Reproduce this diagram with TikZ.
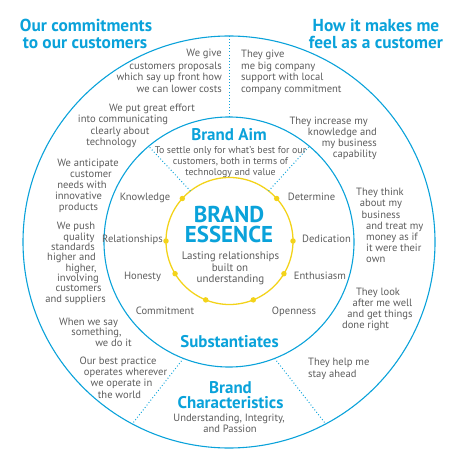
\documentclass[tikz,border=0pt]{standalone}
\usepackage{fontspec}
\setmainfont{PT Sans}
\usetikzlibrary{calc}
\definecolor{brandcyan}{HTML}{0AA2DA}
\definecolor{greytext}{HTML}{5C5C5C}
\definecolor{brandyellow}{HTML}{F3D31A}
\tikzset{
  txt/.style={font=\fontsize{10.6}{12}\selectfont, text=greytext, inner sep=0pt, text height=8pt, text depth=2pt},
  aimtxt/.style={txt, font=\fontsize{9.9}{11}\selectfont},
  esstxt/.style={txt, font=\fontsize{11}{12}\selectfont},
  ttl/.style={font=\bfseries\fontsize{17}{18}\selectfont, text=brandcyan, inner sep=0pt, text height=12pt, text depth=0pt},
  bigttl/.style={ttl, font=\bfseries\fontsize{17.4}{18}\selectfont},
  ttltwo/.style={font=\bfseries\fontsize{17}{15}\selectfont, text=brandcyan, inner sep=0pt, align=center},
  ess/.style={font=\bfseries\fontsize{23}{19.5}\selectfont, text=brandcyan, inner sep=0pt, align=center},
  ring/.style={draw=brandcyan, line width=1.1pt},
  yring/.style={draw=brandyellow, line width=1.3pt},
  dotline/.style={draw=brandcyan, line width=1pt, dash pattern=on 0.9pt off 2.2pt},
  ydot/.style={circle, fill=brandyellow, inner sep=0pt, minimum size=5.5pt}
}
\begin{document}
\begin{tikzpicture}[x=1bp,y=-1bp]
\useasboundingbox (0,0) rectangle (470,463);
\coordinate (C) at (229,242);
\coordinate (Y) at (229.5,241);
% circles
\draw[ring] (C) circle[radius=206bp];
\draw[ring] (C) circle[radius=125bp];
\draw[yring] (Y) circle[radius=63.5bp];
% dotted separators
\coordinate (v1) at ($(C)+(90:206bp)$);
\coordinate (v2) at ($(C)+(90:125bp)$);
\coordinate (ul1) at ($(Y)+(128:63.5bp)$);
\coordinate (ul2) at ($(C)+(130:125bp)$);
\coordinate (ur1) at ($(Y)+(52:63.5bp)$);
\coordinate (ur2) at ($(C)+(50:125bp)$);
\coordinate (ll1) at ($(C)+(248.6:125bp)$);
\coordinate (ll2) at ($(C)+(242:206bp)$);
\coordinate (lr1) at ($(C)+(291.4:125bp)$);
\coordinate (lr2) at ($(C)+(298:206bp)$);
\draw[dotline] (v1) -- (v2);
\draw[dotline] (ul1) -- (ul2);
\draw[dotline] (ur1) -- (ur2);
\draw[dotline] (ll1) -- (ll2);
\draw[dotline] (lr1) -- (lr2);
% yellow dots
\foreach \a/\n in {42/dA,138/dB,180/dC,0/dD,211/dE,329/dF,248/dG,292/dH}{
  \node[ydot] (\n) at ($(Y)+(\a:63.5bp)$) {};
}
% titles
\node[bigttl] (t1a) at (86,26) {Our commitments};
\node[bigttl] (t1b) at (85,43) {to our customers};
\node[bigttl] (t2a) at (376,26) {How it makes me};
\node[bigttl] (t2b) at (376,43) {feel as a customer};
% left outer ring
\node[txt,anchor=east] (a1) at (222,54) {We give};
\node[txt,anchor=east] (a2) at (222,66.5) {customers proposals};
\node[txt,anchor=east] (a3) at (222,78) {which say up front how};
\node[txt,anchor=east] (a4) at (222,89.5) {we can lower costs};
\node[txt] (b1) at (152,109) {We put great effort};
\node[txt] (b2) at (123,120) {into communicating};
\node[txt] (b3) at (120,132) {clearly about};
\node[txt] (b4) at (111.5,143) {technology};
\node[txt] (c1) at (88,164) {We anticipate};
\node[txt] (c2) at (91,175) {customer};
\node[txt] (c3) at (82,186) {needs with};
\node[txt] (c4) at (78.5,197) {innovative};
\node[txt] (c5) at (78.5,208) {products};
\node[txt] (e1) at (76,227) {We push};
\node[txt] (e2) at (79,238) {quality};
\node[txt] (e3) at (73,248) {standards};
\node[txt] (e4) at (71.5,258) {higher and};
\node[txt] (e5) at (81,269) {higher,};
\node[txt] (e6) at (78,279) {involving};
\node[txt] (e7) at (78.5,289) {customers};
\node[txt] (e8) at (75.5,300) {and suppliers};
\node[txt] (f1) at (88.5,323) {When we say};
\node[txt] (f2) at (96.5,333) {something,};
\node[txt] (f3) at (113.5,344) {we do it};
\node[txt] (g1) at (118,362) {Our best practice};
\node[txt] (g2) at (125.5,373) {operates wherever};
\node[txt] (g3) at (121.5,384) {we operate in};
\node[txt] (g4) at (119.5,396) {the world};
% right outer ring
\node[txt,anchor=west] (h1) at (241,55) {They give};
\node[txt,anchor=west] (h2) at (241,66.5) {me big company};
\node[txt,anchor=west] (h3) at (241,78) {support with local};
\node[txt,anchor=west] (h4) at (241,89.5) {company commitment};
\node[txt,anchor=east] (i1) at (368,122) {They increase my};
\node[txt,anchor=east] (i2) at (377,133) {knowledge and};
\node[txt,anchor=east] (i3) at (377,144) {my business};
\node[txt,anchor=east] (i4) at (377,155) {capability};
\node[txt] (j1) at (380,193) {They think};
\node[txt] (j2) at (381,204) {about my};
\node[txt] (j3) at (381,216) {business};
\node[txt,anchor=west] (j4) at (366,227) {and treat my};
\node[txt,anchor=west] (j5) at (366,238) {money as if};
\node[txt,anchor=west] (j6) at (366,249) {it were their};
\node[txt,anchor=west] (j7) at (366,260) {own};
\node[txt] (k1) at (378,293) {They look};
\node[txt] (k2) at (382.5,304) {after me well};
\node[txt] (k3) at (380,315) {and get things};
\node[txt] (k4) at (365.5,326) {done right};
\node[txt,anchor=west] (m1) at (308,363) {They help me};
\node[txt,anchor=west] (m2) at (308,375) {stay ahead};
% middle ring
\node[ttl] (aim) at (229,135) {Brand Aim};
\node[aimtxt] (aim1) at (230.5,151) {To settle only for what’s best for our};
\node[aimtxt] (aim2) at (230.5,162) {customers, both in terms of};
\node[aimtxt] (aim3) at (230.5,172.5) {technology and value};
\node[txt] (lk) at (145,198) {Knowledge};
\node[txt] (lr) at (132.5,240) {Relationships};
\node[txt] (lh) at (142.5,277) {Honesty};
\node[txt] (lc) at (165,312) {Commitment};
\node[txt] (lo) at (294,312) {Openness};
\node[txt] (le) at (320,277) {Enthusiasm};
\node[txt] (ld) at (326.5,240) {Dedication};
\node[txt] (lt) at (311.5,198) {Determine};
\node[ttl] (sub) at (229.5,342) {Substantiates};
% essence
\node[ess] (es) at (229,224.5) {BRAND\\ESSENCE};
\node[esstxt] (es3) at (230.5,257) {Lasting relationships};
\node[esstxt] (es4) at (230,268.5) {built on};
\node[esstxt] (es5) at (230.5,280) {understanding};
% characteristics
\node[ttltwo] (ch) at (230.5,395.5) {Brand\\Characteristics};
\node[txt] (ch3) at (229,419) {Understanding, Integrity,};
\node[txt] (ch4) at (230,429.5) {and Passion};
\end{tikzpicture}
\end{document}
